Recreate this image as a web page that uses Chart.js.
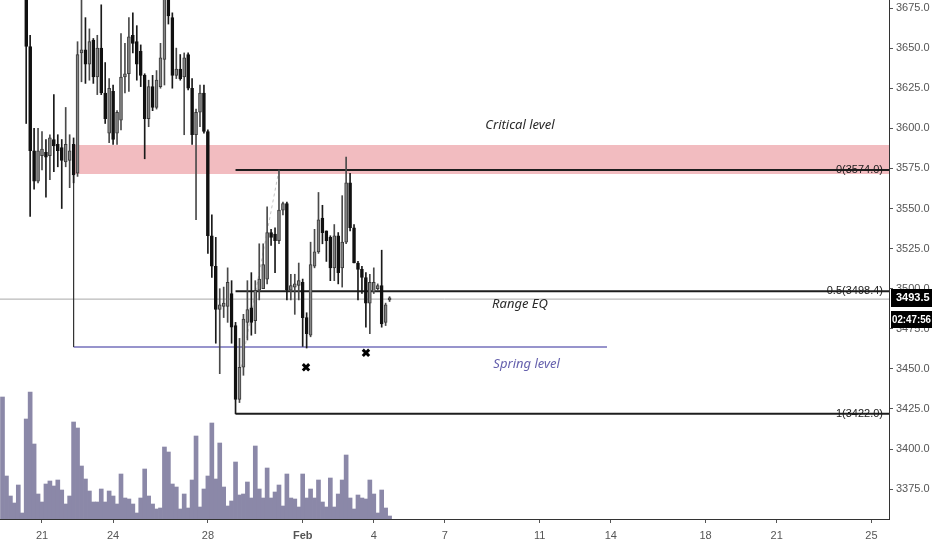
<!DOCTYPE html>
<html><head><meta charset="utf-8">
<script src="https://cdn.jsdelivr.net/npm/chart.js@4.4.1/dist/chart.umd.min.js"></script>
<style>html,body{margin:0;padding:0;background:#fff;}#wrap{width:932px;height:550px;}</style>
</head><body><div id="wrap"><canvas id="c" width="932" height="550"></canvas></div>
<script>
// Time axis in day-of-January units (Feb 1 = 32). 4h candles.
const firstCandleDay = 19 + 8/24;
const candleStepDays = 4/24;

const opens = [3722,3712,3702,3710,3704,3700,3694,3651,3586,3567,
  3583,3585,3583,3593,3590,3588,3579,3580,3590,3572,
  3647,3649,3640,3655,3632,3650,3622,3597,3623,3597,
  3605,3632,3634,3658,3654,3648,3633,3606,3626,3613,
  3626,3643,3695,3669,3633,3637,3632,3646,3625,3596,
  3610,3622,3598,3533,3514,3487,3489,3489,3497,3477,
  3431,3451,3479,3488,3480,3499,3500,3506,3535,3534,
  3530,3549,3553,3499,3501,3502,3504,3482,3471,3514,
  3523,3544,3536,3532,3513,3533,3513,3529,3566,3538,
  3516,3512,3507,3491,3498,3500,3502,3479,3493];
const closes = [3712,3702,3710,3704,3700,3694,3651,3586,3567,3586,
  3587,3582,3594,3589,3586,3580,3590,3586,3571,3646,
  3649,3640,3654,3632,3650,3622,3606,3625,3593,3610,
  3632,3634,3657,3653,3640,3633,3606,3626,3613,3630,
  3644,3683,3670,3633,3637,3631,3644,3625,3596,3610,
  3622,3598,3533,3514,3487,3490,3491,3504,3476,3431,
  3451,3481,3487,3479,3499,3506,3515,3535,3532,3530,
  3549,3553,3499,3502,3503,3505,3482,3472,3515,3523,
  3543,3535,3530,3513,3533,3510,3529,3566,3538,3516,
  3512,3507,3491,3504,3504,3502,3478,3490,3493.5];
const highs = [3728,3718,3715,3716,3712,3708,3698,3658,3600,3600,
  3598,3593,3596,3621,3596,3593,3613,3596,3594,3654,
  3683,3669,3662,3656,3658,3677,3641,3631,3627,3611,
  3659,3653,3669,3672,3664,3652,3634,3630,3633,3636,
  3653,3690,3700,3672,3650,3646,3647,3647,3631,3612,
  3627,3627,3599,3546,3532,3500,3501,3513,3505,3479,
  3469,3484,3505,3510,3505,3528,3528,3551,3537,3538,
  3574,3554,3554,3509,3509,3516,3506,3485,3529,3537,
  3560,3552,3536,3533,3540,3535,3558,3582,3572,3540,
  3517,3514,3510,3509,3513,3503,3524,3491,3495];
const lows = [3705,3698,3696,3699,3694,3688,3603,3545,3562,3566,
  3574,3557,3568,3573,3576,3550,3576,3563,3566,3570,
  3629,3628,3630,3628,3621,3621,3603,3591,3590,3590,
  3599,3622,3623,3647,3630,3626,3581,3601,3611,3612,
  3625,3627,3665,3625,3631,3630,3596,3624,3590,3543,
  3601,3597,3522,3507,3466,3447,3482,3479,3466,3422,
  3429,3446,3468,3471,3472,3493,3500,3503,3527,3510,
  3528,3546,3493,3493,3484,3493,3464,3463,3470,3513,
  3522,3528,3517,3505,3505,3503,3501,3528,3536,3516,
  3493,3497,3476,3472,3497,3499,3476,3477,3492];
const volumes = [122,43,23,16,34,6,100,127,75,25,
  17,35,38,33,39,29,15,23,97,91,
  53,40,28,17,17,30,17,28,23,15,
  45,21,20,15,6,21,50,23,15,10,
  11,72,67,35,32,10,25,11,39,83,
  12,30,43,96,40,76,32,13,18,57,
  24,25,37,21,73,30,21,51,21,27,
  34,13,45,21,20,12,45,21,30,21,
  39,17,12,41,12,25,39,64,21,10,
  24,21,20,39,25,6,29,11,3];

const xTickValues = [21,24,28,32,35,38,42,45,49,52,56];
const xTickLabels = ['21','24','28','Feb','4','7','11','14','18','21','25'];
const priceTicks = [3375,3400,3425,3450,3475,3500,3525,3550,3575,3600,3625,3650,3675];
const viewDays = [19.228, 56.74];
const viewPrices = [3356.4, 3680];

const fibRatios = ['0','0.5','1'];
const fibPrices = [3574.0, 3498.4, 3422.0];
const fibStartIndex = 59;
const zonePrices = [3571.5, 3589.6];
const rangeStartIndex = 18;
const springPrice = 3463.7;
const springEndDay = 44.84;
const diagDays = [null, 29.35];
const diagPrices = [3574, 3447];
const diagStartIndex = 70;
const markDays = [32.14, 34.67];
const markPrices = [3451, 3460];
const noteTexts = ['Critical level','Range EQ','Spring level'];
const noteDays = [41.17, 41.17, 41.45];
const notePrices = [3602, 3490, 3453];
const noteColors = ['#2a2a2a','#2a2a2a','#6560ad'];
const countdown = '02:47:56';

const times = opens.map((_, i) => firstCandleDay + i * candleStepDays);
const lastPrice = closes[closes.length - 1];
const up = closes.map((c, i) => c >= opens[i]);

function lineDs(points, color, width, order, extra) {
  return Object.assign({type:'line', data:points, borderColor:color, borderWidth:width,
    pointRadius:0, fill:false, tension:0, order:order, yAxisID:'y'}, extra || {});
}

const datasets = [
  lineDs([{x:times[rangeStartIndex], y:zonePrices[1]}, {x:viewDays[1], y:zonePrices[1]}], 'rgba(0,0,0,0)', 0, 40,
    {fill:'+1', backgroundColor:'#f2bcc0'}),
  lineDs([{x:times[rangeStartIndex], y:zonePrices[0]}, {x:viewDays[1], y:zonePrices[0]}], 'rgba(0,0,0,0)', 0, 41),
  {type:'bar', data:times.map((t,i)=>({x:t, y:volumes[i]})), yAxisID:'vol', backgroundColor:'#8b88a8',
    barThickness:4, grouped:false, order:30},
  lineDs([{x:viewDays[0], y:lastPrice}, {x:viewDays[1], y:lastPrice}], '#a8a8a8', 1, 25),
  lineDs([{x:times[rangeStartIndex], y:zonePrices[0]}, {x:times[rangeStartIndex], y:springPrice}], '#333', 1, 20),
  lineDs([{x:times[rangeStartIndex], y:springPrice}, {x:springEndDay, y:springPrice}], '#7570bb', 1.5, 20),
  lineDs([{x:times[diagStartIndex], y:diagPrices[0]}, {x:diagDays[1], y:diagPrices[1]}], '#c4c4c4', 1, 20, {borderDash:[3,3]}),
  ...fibPrices.map(p => lineDs([{x:times[fibStartIndex], y:p}, {x:viewDays[1], y:p}], '#1e1e1e', 2, 15)),
  {type:'bar', data:times.map((t,i)=>({x:t, y:[lows[i], highs[i]]})), yAxisID:'y',
    backgroundColor:up.map(u=>u?'#4a4a4a':'#1a1a1a'), barThickness:1, grouped:false, order:6},
  {type:'bar', data:times.map((t,i)=>({x:t, y:[opens[i], closes[i]]})), yAxisID:'y',
    backgroundColor:up.map(u=>u?'#858585':'#111'), borderColor:up.map(u=>u?'#3a3a3a':'#111'),
    borderWidth:1, borderSkipped:false, barThickness:3, minBarLength:2, grouped:false, order:5},
  lineDs(markDays.map((d,i)=>({x:d, y:markPrices[i]})), '#000', 3, 1,
    {showLine:false, pointRadius:4.5, pointStyle:'crossRot', pointBorderWidth:3, pointBorderColor:'#000'})
];

const annot = {
  id:'annot',
  afterDatasetsDraw(chart) {
    const {ctx, scales:{x, y}, chartArea:a} = chart;
    ctx.save();
    ctx.beginPath(); ctx.rect(a.left, a.top, a.right - a.left, a.bottom - a.top); ctx.clip();
    ctx.font = '11px "Liberation Sans"'; ctx.fillStyle = '#1a1a1a';
    ctx.textAlign = 'right'; ctx.textBaseline = 'middle';
    fibRatios.forEach((r, i) => ctx.fillText(r + '(' + fibPrices[i].toFixed(1) + ')', a.right - 6, y.getPixelForValue(fibPrices[i])));
    ctx.font = 'italic 13px "Noto Sans"'; ctx.textAlign = 'center';
    noteTexts.forEach((t, i) => { ctx.fillStyle = noteColors[i];
      ctx.fillText(t, x.getPixelForValue(noteDays[i]), y.getPixelForValue(notePrices[i])); });
    ctx.restore();
  },
  afterDraw(chart) {
    const {ctx, scales:{y}, chartArea:a} = chart;
    const py = Math.round(y.getPixelForValue(lastPrice));
    const bx = a.right + 2, bw = chart.width - bx;
    ctx.save();
    ctx.fillStyle = '#000';
    ctx.fillRect(bx, py - 10, bw, 18);
    ctx.fillRect(bx, py + 12, bw, 17);
    ctx.fillStyle = '#fff'; ctx.font = 'bold 11px "Liberation Sans"';
    ctx.textAlign = 'left'; ctx.textBaseline = 'middle';
    ctx.fillText(lastPrice.toFixed(1), bx + 5, py - 1);
    ctx.fillText(countdown, bx + 1, py + 21, bw - 2);
    ctx.restore();
  }
};

new Chart(document.getElementById('c'), {
  type:'bar',
  data:{datasets},
  plugins:[annot],
  options:{
    responsive:false, animation:false, maintainAspectRatio:false,
    layout:{padding:0, autoPadding:false},
    plugins:{legend:{display:false}, tooltip:{enabled:false}},
    scales:{
      x:{type:'linear', position:'bottom', min:viewDays[0], max:viewDays[1], offset:false,
        afterBuildTicks:s => { s.ticks = xTickValues.map(v => ({value:v})); },
        afterFit:s => { s.height = 31; s.paddingLeft = 0; s.paddingRight = 0; s.paddingTop = 0; s.paddingBottom = 0; },
        grid:{drawOnChartArea:false, drawTicks:true, tickLength:4, color:'#555', offset:false},
        border:{display:true, color:'#333', width:1},
        ticks:{autoSkip:false, maxRotation:0, padding:6, color:'#555',
          font:c => ({family:'Liberation Sans', size:11, weight:(c.tick && c.tick.value === 32) ? 'bold' : 'normal'}),
          callback:v => xTickLabels[xTickValues.indexOf(v)]}
      },
      y:{type:'linear', position:'right', min:viewPrices[0], max:viewPrices[1],
        afterBuildTicks:s => { s.ticks = priceTicks.map(v => ({value:v})); },
        afterFit:s => { s.width = 43; s.paddingLeft = 0; s.paddingRight = 0; s.paddingTop = 0; s.paddingBottom = 0; },
        grid:{drawOnChartArea:false, drawTicks:true, tickLength:4, color:'#555'},
        border:{display:true, color:'#333', width:1},
        ticks:{padding:3, color:'#555', font:{family:'Liberation Sans', size:11},
          callback:v => Number(v).toFixed(1)}
      },
      vol:{type:'linear', display:false, min:0, max:519}
    }
  }
});
</script></body></html>
